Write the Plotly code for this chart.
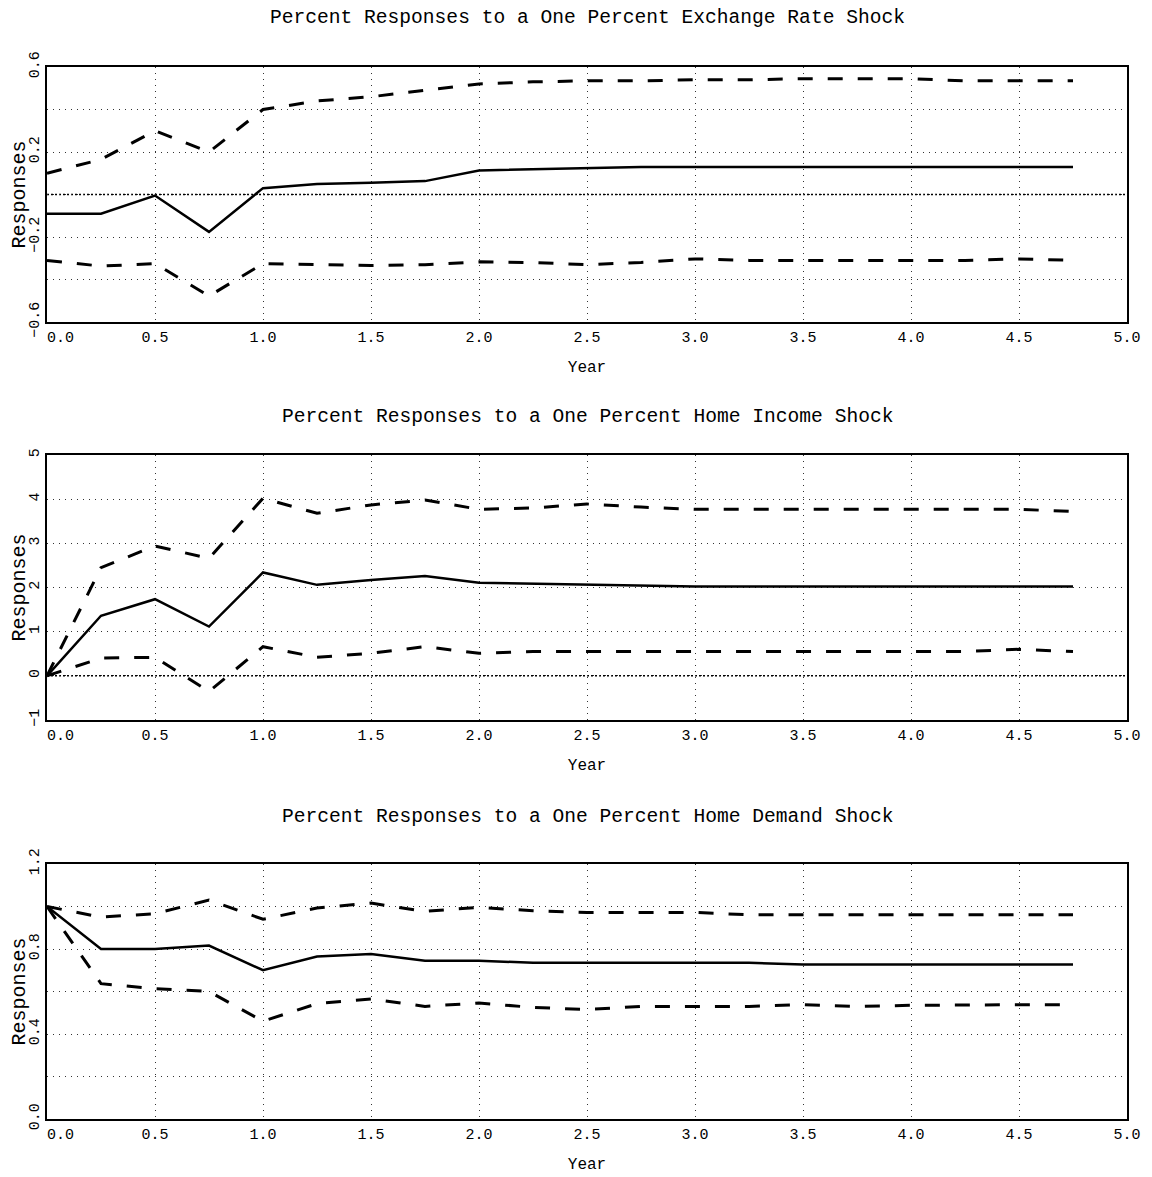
import plotly.graph_objects as go

# ---------------- data ----------------
years = [0.0, 0.25, 0.5, 0.75, 1.0, 1.25, 1.5, 1.75, 2.0, 2.25,
         2.5, 2.75, 3.0, 3.25, 3.5, 3.75, 4.0, 4.25, 4.5, 4.75]

# Panel 1: exchange rate shock
ex_mid = [-0.09, -0.09, -0.005, -0.176, 0.03, 0.05, 0.055, 0.063, 0.113, 0.118,
          0.122, 0.13, 0.13, 0.13, 0.13, 0.13, 0.13, 0.13, 0.13, 0.13]
ex_up = [0.10, 0.165, 0.30, 0.20, 0.40, 0.44, 0.46, 0.49, 0.52, 0.53,
         0.535, 0.535, 0.54, 0.54, 0.545, 0.545, 0.545, 0.535, 0.535, 0.535]
ex_lo = [-0.31, -0.337, -0.325, -0.478, -0.325, -0.33, -0.334, -0.33, -0.317, -0.32,
         -0.33, -0.32, -0.303, -0.31, -0.31, -0.31, -0.31, -0.31, -0.303, -0.31]

# Panel 2: home income shock
inc_mid = [0.0, 1.36, 1.735, 1.115, 2.34, 2.06, 2.17, 2.26, 2.11, 2.09,
           2.07, 2.05, 2.02, 2.02, 2.02, 2.02, 2.02, 2.02, 2.02, 2.02]
inc_up = [0.0, 2.45, 2.94, 2.66, 4.02, 3.68, 3.87, 3.98, 3.77, 3.80,
          3.89, 3.82, 3.77, 3.77, 3.77, 3.76, 3.76, 3.76, 3.77, 3.72]
inc_lo = [0.0, 0.40, 0.42, -0.355, 0.66, 0.42, 0.51, 0.66, 0.51, 0.55,
          0.55, 0.55, 0.55, 0.55, 0.55, 0.55, 0.55, 0.55, 0.60, 0.55]

# Panel 3: home demand shock
dem_mid = [1.0, 0.80, 0.80, 0.816, 0.70, 0.765, 0.776, 0.745, 0.745, 0.735,
           0.735, 0.735, 0.735, 0.735, 0.727, 0.727, 0.727, 0.727, 0.727, 0.727]
dem_up = [1.0, 0.95, 0.966, 1.03, 0.94, 0.993, 1.016, 0.977, 0.996, 0.98,
          0.972, 0.972, 0.972, 0.961, 0.961, 0.961, 0.961, 0.961, 0.961, 0.961]
dem_lo = [1.0, 0.637, 0.613, 0.60, 0.46, 0.543, 0.565, 0.53, 0.546, 0.525,
          0.515, 0.53, 0.53, 0.53, 0.538, 0.53, 0.535, 0.538, 0.538, 0.538]

titles = ["Percent Responses to a One Percent Exchange Rate Shock",
          "Percent Responses to a One Percent Home Income Shock",
          "Percent Responses to a One Percent Home Demand Shock"]

y_ranges = [[-0.6, 0.6], [-1, 5], [0, 1.2]]
y_tickvals = [[-0.6, -0.2, 0.2, 0.6], [-1, 0, 1, 2, 3, 4, 5], [0.0, 0.4, 0.8, 1.2]]
y_ticktext = [["\u22120.6", "\u22120.2", "0.2", "0.6"],
              ["\u22121", "0", "1", "2", "3", "4", "5"],
              ["0.0", "0.4", "0.8", "1.2"]]
y_minor = [0.2, 1, 0.2]
x_tickvals = [0.0, 0.5, 1.0, 1.5, 2.0, 2.5, 3.0, 3.5, 4.0, 4.5, 5.0]
x_ticktext = ["\u00a0\u00a0\u00a00.0", "0.5", "1.0", "1.5", "2.0", "2.5",
              "3.0", "3.5", "4.0", "4.5", "5.0"]

# ---------------- figure ----------------
FONT = "Liberation Mono"
W, H = 1152, 1177
OFF = 8  # page body margin offset
ML, MR, MT, MB = 47 - OFF, 25 + OFF, 67 - OFF, 58 + OFF
plot_h = H - MT - MB

def ypaper(px):
    # px: target pixel row on the page
    return (H - MB - (px - OFF)) / plot_h

# pixel boxes (top, bottom) for each panel
boxes = [(67, 322), (455, 720), (864, 1119)]
title_px = [18, 417, 817]

fig = go.Figure()
series = [(ex_mid, ex_up, ex_lo), (inc_mid, inc_up, inc_lo), (dem_mid, dem_up, dem_lo)]
grid_col = "#333333"

for i, (mid, up, lo) in enumerate(series):
    xa = "x" if i == 0 else f"x{i+1}"
    ya = "y" if i == 0 else f"y{i+1}"
    for vals, dash, w in [(up, "15px,15px", 3), (lo, "15px,15px", 3), (mid, "solid", 2.5)]:
        fig.add_trace(go.Scatter(x=years, y=vals, xaxis=xa, yaxis=ya, mode="lines",
                                 line=dict(color="black", width=w, dash=dash),
                                 showlegend=False, hoverinfo="x+y"))
    top, bot = boxes[i]
    axkey = "xaxis" if i == 0 else f"xaxis{i+1}"
    aykey = "yaxis" if i == 0 else f"yaxis{i+1}"
    fig.layout[axkey] = dict(
        domain=[0, 1], anchor=ya, range=[0, 5], automargin=False,
        tickvals=x_tickvals, ticktext=x_ticktext,
        showgrid=True, gridcolor=grid_col, gridwidth=1, griddash="1px,5px",
        showline=True, linecolor="black", linewidth=2, mirror=True,
        ticks="", zeroline=False,
        tickfont=dict(family=FONT, size=15, color="black"),
        title=dict(text="Year", font=dict(family=FONT, size=16, color="black"), standoff=15),
    )
    fig.layout[aykey] = dict(
        domain=[ypaper(bot), ypaper(top)], anchor=xa, range=y_ranges[i], automargin=False,
        tickvals=y_tickvals[i], ticktext=y_ticktext[i], tickangle=-90,
        showgrid=True, gridcolor=grid_col, gridwidth=1, griddash="1px,5px",
        minor=dict(dtick=y_minor[i], tick0=0, showgrid=True, gridcolor=grid_col,
                   gridwidth=1, griddash="1px,5px", ticks=""),
        showline=True, linecolor="black", linewidth=2, mirror=True,
        ticks="", zeroline=False,
        tickfont=dict(family=FONT, size=15, color="black"),
        title=dict(text="Responses", font=dict(family=FONT, size=20, color="black"), standoff=0),
    )
    # denser dotted zero reference line
    if y_ranges[i][0] < 0:
        fig.add_shape(type="line", xref=f"{xa} domain", yref=ya, x0=0, x1=1, y0=0, y1=0,
                      line=dict(color="black", width=1.5, dash="2px,2px"), layer="below")
    fig.add_annotation(text=titles[i], xref="paper", yref="paper", x=0.5, y=ypaper(title_px[i]),
                       xanchor="center", yanchor="middle", showarrow=False,
                       font=dict(family=FONT, size=19.6, color="black"))

fig.update_layout(
    width=W, height=H,
    margin=dict(l=ML, r=MR, t=MT, b=MB, autoexpand=False),
    paper_bgcolor="white", plot_bgcolor="white",
    font=dict(family=FONT, color="black"),
    showlegend=False,
)

fig.write_html("out.html")
